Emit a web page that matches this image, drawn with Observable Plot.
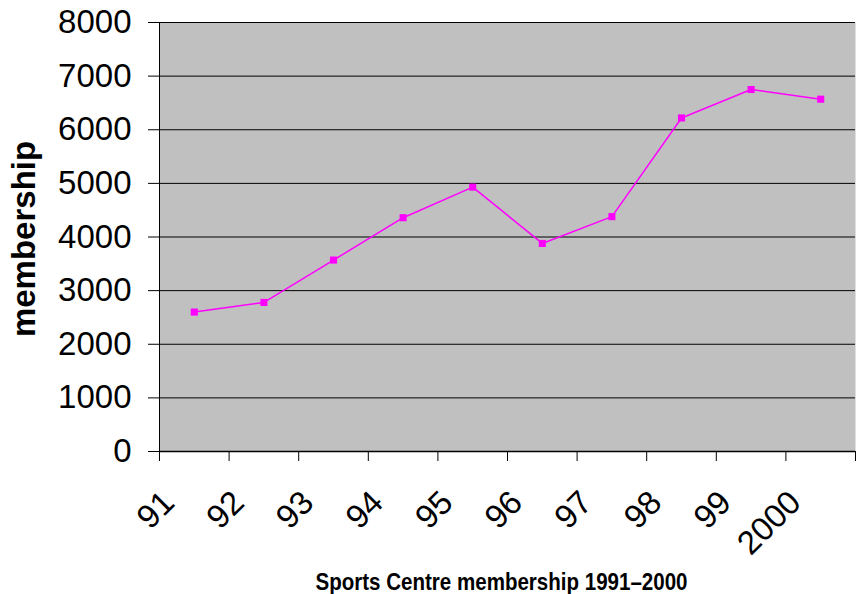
<!DOCTYPE html>
<html>
<head>
<meta charset="utf-8">
<script src="https://cdn.jsdelivr.net/npm/d3@7"></script>
<script src="https://cdn.jsdelivr.net/npm/@observablehq/plot@0.6"></script>
<style>
  html, body { margin: 0; padding: 0; background: #ffffff; }
</style>
</head>
<body>
<div id="chart"></div>
<script>
const years = ["91", "92", "93", "94", "95", "96", "97", "98", "99", "2000"];
const members = [2600, 2780, 3570, 4360, 4930, 3880, 4380, 6220, 6750, 6570];
const yTicks = [0, 1000, 2000, 3000, 4000, 5000, 6000, 7000, 8000];
const yLabel = "membership";
const caption = "Sports Centre membership 1991\u20132000";

const data = years.map((label, i) => ({label, pos: i + 0.5, value: members[i]}));
const boundaries = d3.range(0, years.length + 1);

const chart = Plot.plot({
  width: 856,
  height: 594,
  marginLeft: 159,
  marginRight: 1,
  marginTop: 22,
  marginBottom: 143,
  style: {fontFamily: "'Liberation Sans', Arial, sans-serif", fontSize: "33px", background: "#ffffff", color: "#000"},
  x: {type: "linear", domain: [0, years.length], axis: null},
  y: {domain: [0, 8000], axis: null},
  marks: [
    Plot.frame({fill: "#c0c0c0", stroke: null}),
    Plot.ruleY(yTicks.filter(d => d > 0), {stroke: "#000", strokeWidth: 1}),
    Plot.axisY({ticks: yTicks, tickSize: 11, tickPadding: 17, fontSize: 33, label: null, tickFormat: d => String(d), stroke: "#000"}),
    Plot.axisX({ticks: boundaries, tickSize: 10, tickFormat: () => "", label: null, stroke: "#000"}),
    Plot.ruleX([0], {stroke: "#000", strokeWidth: 1}),
    Plot.ruleY([0], {stroke: "#000", strokeWidth: 1.3}),
    Plot.line(data, {x: "pos", y: "value", stroke: "#ff00ff", strokeWidth: 1.5}),
    Plot.dot(data, {x: "pos", y: "value", symbol: "square", r: 4, fill: "#ff00ff", stroke: null}),
    Plot.text(data, {x: "pos", y: 0, text: "label", rotate: -45, textAnchor: "end", lineAnchor: "bottom", dx: -18, dy: 53, fontSize: 33, fill: "#000"}),
    Plot.text([yLabel], {frameAnchor: "left", textAnchor: "middle", rotate: -90, lineAnchor: "bottom", dx: -125, dy: 2, fontSize: 33, fontWeight: "bold", fill: "#000"}),
    Plot.text([caption], {frameAnchor: "bottom", textAnchor: "middle", lineAnchor: "bottom", dy: 138, dx: -6, fontSize: 24, fontWeight: "bold", fill: "#000"})
  ]
});
// condense the caption to the narrow width seen in the reference
d3.select(chart).selectAll("text").filter(function() { return this.textContent === caption; })
  .attr("textLength", 372).attr("lengthAdjust", "spacingAndGlyphs");
document.getElementById("chart").appendChild(chart);
</script>
</body>
</html>
